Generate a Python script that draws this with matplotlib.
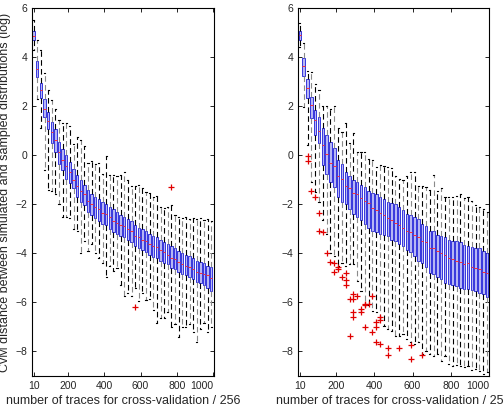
import numpy as np
import matplotlib
matplotlib.use('Agg')
import matplotlib.pyplot as plt

plt.rcParams['font.family'] = ['Liberation Sans', 'DejaVu Sans']

# box positions (number of traces), same for both panels
positions = list(range(10, 1000, 20))

# ── left panel ─────────────────────────────────────────────────────────
left_med = [4.85, 3.5, 2.65, 1.9, 1.4, 0.95, 0.6, 0.15, -0.2, -0.45,
            -0.7, -1.0, -1.25, -1.45, -1.6, -1.85, -2.0, -2.1, -2.2, -2.35,
            -2.4, -2.5, -2.7, -2.75, -2.85, -2.9, -3.0, -3.1, -3.3, -3.35,
            -3.45, -3.5, -3.6, -3.7, -3.75, -3.85, -3.95, -4.05, -4.2, -4.25,
            -4.35, -4.45, -4.5, -4.55, -4.65, -4.75, -4.8, -4.85, -4.9, -5.0]
left_q3 = [5.05, 3.85, 2.95, 2.3, 1.75, 1.35, 1.05, 0.55, 0.25, 0.0,
           -0.27, -0.58, -0.8, -1.0, -1.2, -1.4, -1.6, -1.7, -1.8, -1.9,
           -2.0, -2.1, -2.2, -2.3, -2.45, -2.5, -2.6, -2.7, -2.85, -2.95,
           -3.0, -3.1, -3.2, -3.3, -3.35, -3.45, -3.55, -3.6, -3.7, -3.8,
           -3.9, -4.0, -4.05, -4.1, -4.2, -4.3, -4.35, -4.4, -4.5, -4.55]
left_q1 = [4.7, 3.2, 2.35, 1.55, 1.05, 0.5, 0.15, -0.35, -0.6, -0.95,
           -1.15, -1.35, -1.7, -1.9, -2.05, -2.3, -2.45, -2.55, -2.7, -2.8,
           -2.85, -3.0, -3.15, -3.2, -3.3, -3.35, -3.45, -3.55, -3.7, -3.8,
           -3.85, -3.95, -4.05, -4.15, -4.2, -4.3, -4.4, -4.45, -4.6, -4.65,
           -4.75, -4.85, -4.9, -4.95, -5.05, -5.15, -5.2, -5.3, -5.4, -5.55]
left_hi = [5.5, 4.7, 4.3, 3.35, 2.65, 2.25, 1.9, 1.45, 1.3, 1.3,
           1.2, 0.45, 0.75, 0.6, 0.38, -0.3, -0.25, -0.35, -0.3, -0.75,
           -0.05, -0.8, -0.8, -0.85, -0.8, -0.7, -1.0, -1.25, -1.25, -1.2,
           -1.35, -1.5, -1.55, -1.7, -1.65, -2.1, -2.15, -2.1, -2.05, -2.45,
           -2.5, -2.55, -2.5, -2.6, -2.55, -2.6, -2.55, -2.65, -2.6, -2.7]
left_lo = [4.3, 2.3, 1.1, -0.6, -1.4, -1.45, -1.6, -2.0, -2.5, -2.5,
           -2.55, -3.0, -3.1, -4.0, -3.5, -3.9, -3.6, -4.0, -4.2, -4.4,
           -4.95, -4.5, -4.7, -4.6, -5.3, -5.75, -5.6, -5.75, -5.4, -5.95,
           -5.6, -5.9, -5.85, -6.3, -6.85, -6.65, -6.65, -6.4, -7.0, -6.9,
           -7.4, -7.0, -7.0, -6.9, -7.2, -7.6, -7.1, -6.85, -7.2, -7.0]
left_out_pos = [570, 770]
left_out_val = [-6.2, -1.3]

# ── right panel ────────────────────────────────────────────────────────
right_med = [4.9, 3.62, 2.75, 2.05, 1.45, 1.0, 0.4, 0.05, -0.3, -0.45,
             -0.85, -0.95, -1.25, -1.35, -1.55, -1.6, -1.75, -1.85, -1.95, -2.15,
             -2.25, -2.35, -2.45, -2.55, -2.65, -2.75, -2.85, -2.95, -3.1, -3.15,
             -3.25, -3.35, -3.5, -3.55, -3.8, -3.8, -3.9, -4.0, -4.05, -4.2,
             -4.25, -4.3, -4.35, -4.45, -4.4, -4.55, -4.6, -4.65, -4.75, -4.8]
right_q3 = [5.05, 3.96, 3.1, 2.39, 1.84, 1.57, 1.09, 0.82, 0.55, 0.28,
            -0.2, -0.34, -0.68, -0.85, -1.0, -1.1, -1.2, -1.3, -1.45, -1.55,
            -1.6, -1.7, -1.8, -1.9, -1.95, -2.0, -2.1, -2.25, -2.4, -2.45,
            -2.5, -2.6, -2.8, -2.9, -3.1, -3.1, -3.25, -3.3, -3.35, -3.45,
            -3.5, -3.5, -3.55, -3.65, -3.7, -3.75, -3.8, -3.8, -3.9, -4.0]
right_q1 = [4.71, 3.24, 2.32, 1.53, 0.82, 0.48, -0.41, -0.75, -1.09, -1.3,
            -1.72, -1.91, -1.98, -2.19, -2.39, -2.5, -2.65, -2.8, -2.95, -3.1,
            -3.15, -3.2, -3.25, -3.3, -3.45, -3.5, -3.6, -3.7, -3.85, -3.95,
            -4.1, -4.3, -4.4, -4.55, -4.8, -4.85, -4.95, -5.05, -5.2, -5.25,
            -5.3, -5.35, -5.4, -5.45, -5.45, -5.5, -5.55, -5.6, -5.65, -5.8]
right_hi = [5.4, 4.58, 3.44, 3.41, 2.9, 2.66, 2.0, 2.0, 1.9, 2.0,
            1.12, 0.95, 1.32, 0.48, 0.89, 0.14, 0.14, 0.14, -0.14, -0.2,
            -0.47, -0.4, -0.45, -0.5, -0.52, -0.86, -0.95, -1.0, -0.85, -0.7,
            -0.7, -1.25, -1.25, -1.3, -1.4, -0.82, -1.45, -1.35, -1.7, -1.7,
            -1.7, -1.65, -1.6, -1.75, -1.7, -1.85, -2.05, -2.1, -2.2, -2.3]
right_lo = [4.4, 1.98, 0.41, -1.1, -1.5, -1.9, -2.66, -3.2, -4.0, -4.1,
            -4.5, -4.4, -4.5, -4.43, -4.45, -5.12, -5.53, -6.07, -6.1, -6.35,
            -6.4, -6.6, -6.97, -7.1, -7.17, -7.38, -7.35, -7.3, -7.5, -7.6,
            -7.7, -7.6, -8.1, -8.0, -8.1, -8.2, -8.1, -8.4, -8.2, -8.5,
            -8.6, -8.55, -8.6, -8.65, -8.6, -8.75, -8.7, -8.8, -8.9, -8.85]
right_out_pos = [50, 50, 70, 90, 110, 110, 130, 150, 170, 190,
                 190, 210, 210, 230, 250, 250, 250, 270, 270, 290,
                 290, 290, 290, 310, 330, 330, 350, 350, 350, 370,
                 390, 390, 410, 410, 410, 430, 430, 430, 470, 470,
                 530, 590, 590, 650]
right_out_val = [-0.05, -0.25, -1.45, -1.7, -2.35, -3.1, -3.15, -4.0, -4.35, -4.4,
                 -4.75, -4.65, -4.55, -4.95, -4.8, -5.1, -5.3, -5.85, -7.35, -5.65,
                 -5.85, -6.4, -6.6, -5.75, -6.25, -6.4, -6.1, -6.05, -7.0, -6.05,
                 -5.75, -7.2, -6.8, -7.0, -7.6, -6.6, -6.7, -7.7, -7.85, -8.15,
                 -7.85, -7.75, -8.3, -8.15]

xticks = [10, 200, 400, 600, 800, 1000]
yticks = [-8, -6, -4, -2, 0, 2, 4, 6]

TEXT = '#262626'


def make_stats(med, q1, q3, lo, hi, out_pos, out_val):
    stats = []
    for i, p in enumerate(positions):
        fl = [v for op, v in zip(out_pos, out_val) if op == p]
        stats.append(dict(med=med[i], q1=q1[i], q3=q3[i],
                          whislo=lo[i], whishi=hi[i], fliers=np.array(fl)))
    return stats


def draw(ax, stats, xlim):
    art = ax.bxp(stats, positions=positions, widths=13, capwidths=6,
                 patch_artist=True, manage_ticks=False,
                 boxprops=dict(facecolor='#b6b6f4', edgecolor='#1c1cd8', linewidth=0.6),
                 whiskerprops=dict(color='black', linewidth=0.8, linestyle=(0, (5, 3))),
                 capprops=dict(color='black', linewidth=0.8),
                 medianprops=dict(color='#ff3030', linewidth=0.7),
                 flierprops=dict(marker='+', markeredgecolor='#e00000',
                                 markersize=5, markeredgewidth=0.9, linestyle='none'))
    # dashed whiskers look alternately black / grey in the original
    for k, w in enumerate(art['whiskers']):
        if (k // 2) % 2 == 1:
            w.set_color('#8a8a8a')
    ax.set_xlim(*xlim)
    ax.set_ylim(-9, 6)
    ax.set_xticks(xticks)
    ax.set_yticks(yticks)
    ax.tick_params(direction='in', top=True, right=True, length=3,
                   width=0.6, labelsize=7.5, colors='black', labelcolor=TEXT)
    ax.get_xticklabels()[-1].set_ha('right')
    for s in ax.spines.values():
        s.set_linewidth(0.8)
    ax.set_xlabel('number of traces for cross-validation / 256',
                  fontsize=9, color=TEXT, labelpad=3)


fig = plt.figure(figsize=(5.04, 4.12), dpi=100)
ax1 = fig.add_axes([32 / 504, 36 / 412, 182 / 504, 368 / 412])
ax2 = fig.add_axes([298 / 504, 36 / 412, 191 / 504, 368 / 412])

draw(ax1, make_stats(left_med, left_q1, left_q3, left_lo, left_hi,
                     left_out_pos, left_out_val), (1, 1005))
draw(ax2, make_stats(right_med, right_q1, right_q3, right_lo, right_hi,
                     right_out_pos, right_out_val), (0, 1000))

ax1.set_ylabel('CvM distance between simulated and sampled distributions (log)',
               fontsize=9, color=TEXT, labelpad=3)

fig.savefig('out.png', dpi=100)
